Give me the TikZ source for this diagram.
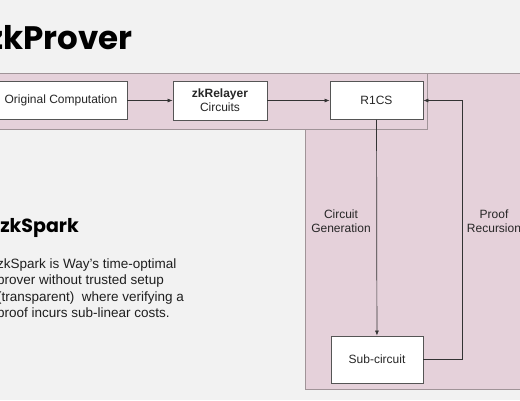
\documentclass[tikz,border=0pt]{standalone}
\usepackage{fontspec}
\setmainfont{Liberation Sans}
\newfontfamily\headfont{Poppins}
\usetikzlibrary{arrows.meta,positioning}
\definecolor{SlideBack}{HTML}{F2F2F2}
\definecolor{PanelFill}{HTML}{E5D1DA}
\definecolor{PanelLine}{HTML}{A09498}
\definecolor{BoxLine}{HTML}{555555}
\definecolor{WireLine}{HTML}{333333}
\tikzset{>={Latex[length=5pt,width=4pt]},
 box/.style={draw=BoxLine,fill=white,line width=.8pt,inner sep=0pt,align=center,
 font=\fontsize{12}{14}\selectfont,text=black!85},
 lbl/.style={align=center,font=\fontsize{12}{14}\selectfont,text=black!85},
 wire/.style={draw=WireLine,line width=.7pt}}

\begin{document}
\begin{tikzpicture}[x=1pt,y=-1pt]
\useasboundingbox (0,0) rectangle (520,400);
\clip (0,0) rectangle (520,400);
\fill[SlideBack] (0,0) rectangle (520,400);
% panels
\fill[PanelFill] (305,73) rectangle (530,389);
\fill[PanelFill] (-5,73) rectangle (427,129);
\draw[PanelLine,line width=.8pt] (305,129) -- (305,389) -- (530,389) (305,73) -- (530,73);
\draw[PanelLine,line width=.8pt] (-5,73) rectangle (427,129);
% headings
\node[anchor=base east,inner sep=0,font=\headfont\bfseries\fontsize{32.5}{34}\selectfont] (title) at (133,49) {zkProver};
\node[anchor=base east,inner sep=0,font=\headfont\bfseries\fontsize{19}{21}\selectfont] (spark) at (79,232) {zkSpark};
\node[anchor=north west,inner sep=0,align=left,text=black!88,
 font=\fontsize{13.5}{16.3}\selectfont] (about) at (-3,258.5)
 {zkSpark is Way’s time-optimal\\prover without trusted setup\\(transparent)~ where verifying a\\proof incurs sub-linear costs.};
% boxes
\node[box,minimum width=132pt,minimum height=38pt] (orig) at (61,100.5) {Original Computation};
\node[box,minimum width=94pt,minimum height=39pt] (relay) at (220,100.5) {\textbf{zkRelayer}\\Circuits};
\node[box,minimum width=93pt,minimum height=38pt] (rcs) at (376.5,100.5) {R1CS};
\node[box,minimum width=92pt,minimum height=47pt] (sub) at (377,359.5) {Sub-circuit};
\coordinate (rec) at (462,230);
% connectors
\draw[wire,->] (orig) -- (relay);
\draw[wire,->] (relay) -- (rcs);
\draw[wire,->] (rcs) -- (sub);
\draw[wire,->] (sub.east) -- (sub.east -| rec) -- (rec |- rcs.east) -- (rcs.east);
\node[lbl] (gen) at (341,221) {Circuit\\Generation};
\node[lbl] (recl) at (494,221) {Proof\\Recursion};
\end{tikzpicture}
\end{document}
